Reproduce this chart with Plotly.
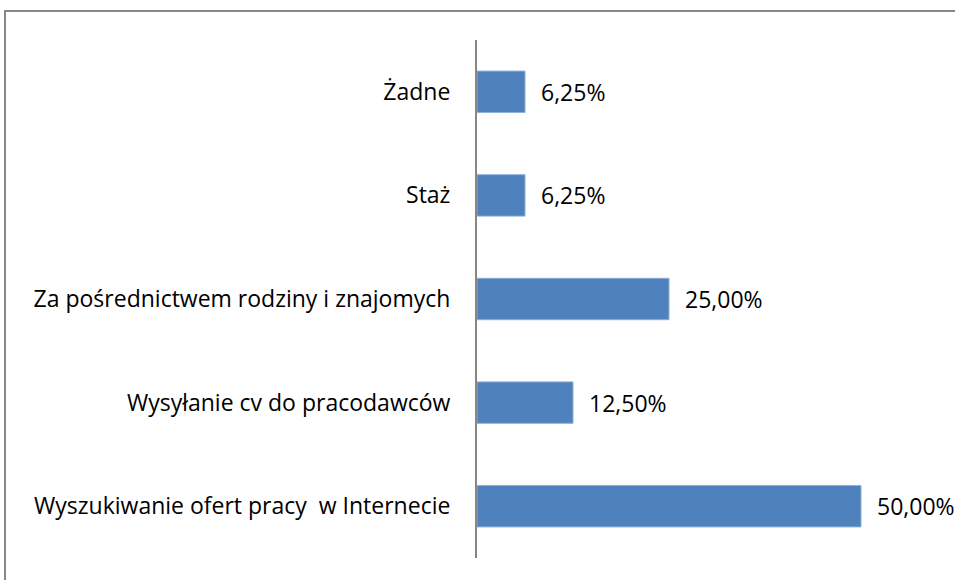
import plotly.graph_objects as go

categories = [
    "Żadne",
    "Staż",
    "Za pośrednictwem rodziny i znajomych",
    "Wysyłanie cv do pracodawców",
    "Wyszukiwanie ofert pracy  w Internecie",
]
values = [6.25, 6.25, 25.00, 12.50, 50.00]
value_labels = ["6,25%", "6,25%", "25,00%", "12,50%", "50,00%"]

FONT = "Open Sans"
FS = 23
fig = go.Figure()
fig.add_trace(go.Bar(
    x=values,
    y=categories,
    orientation="h",
    width=0.4,
    marker=dict(color="#4F81BD", line=dict(color="#8DB0DA", width=1)),
    hoverinfo="skip",
))

for v, c, t in zip(values, categories, value_labels):
    fig.add_annotation(
        x=v, y=c, text=t, showarrow=False,
        xanchor="left", yanchor="middle", xshift=14,
        font=dict(family=FONT, size=FS, color="#000000"),
    )

fig.update_layout(
    width=955, height=580,
    margin=dict(l=477, r=0, t=40, b=22),
    paper_bgcolor="white", plot_bgcolor="white",
    showlegend=False,
    font=dict(family=FONT, size=FS, color="#000000"),
    xaxis=dict(range=[0, 62.24], visible=False, showgrid=False, zeroline=False),
    yaxis=dict(
        autorange="reversed",
        showline=True, linecolor="#868686", linewidth=2,
        ticks="", showgrid=False, zeroline=False,
        ticklabelstandoff=20,
        tickfont=dict(family=FONT, size=FS, color="#000000"),
    ),
    shapes=[
        dict(type="rect", xref="paper", yref="paper",
             x0=-0.9874, x1=1.05, y0=-0.2, y1=1.056,
             line=dict(color="#878787", width=2), fillcolor="rgba(0,0,0,0)",
             layer="below"),
    ],
)

fig.write_html(
    "out.html",
    config={"displayModeBar": False},
    post_script="document.body.style.margin='0';document.body.style.overflow='hidden';",
)
